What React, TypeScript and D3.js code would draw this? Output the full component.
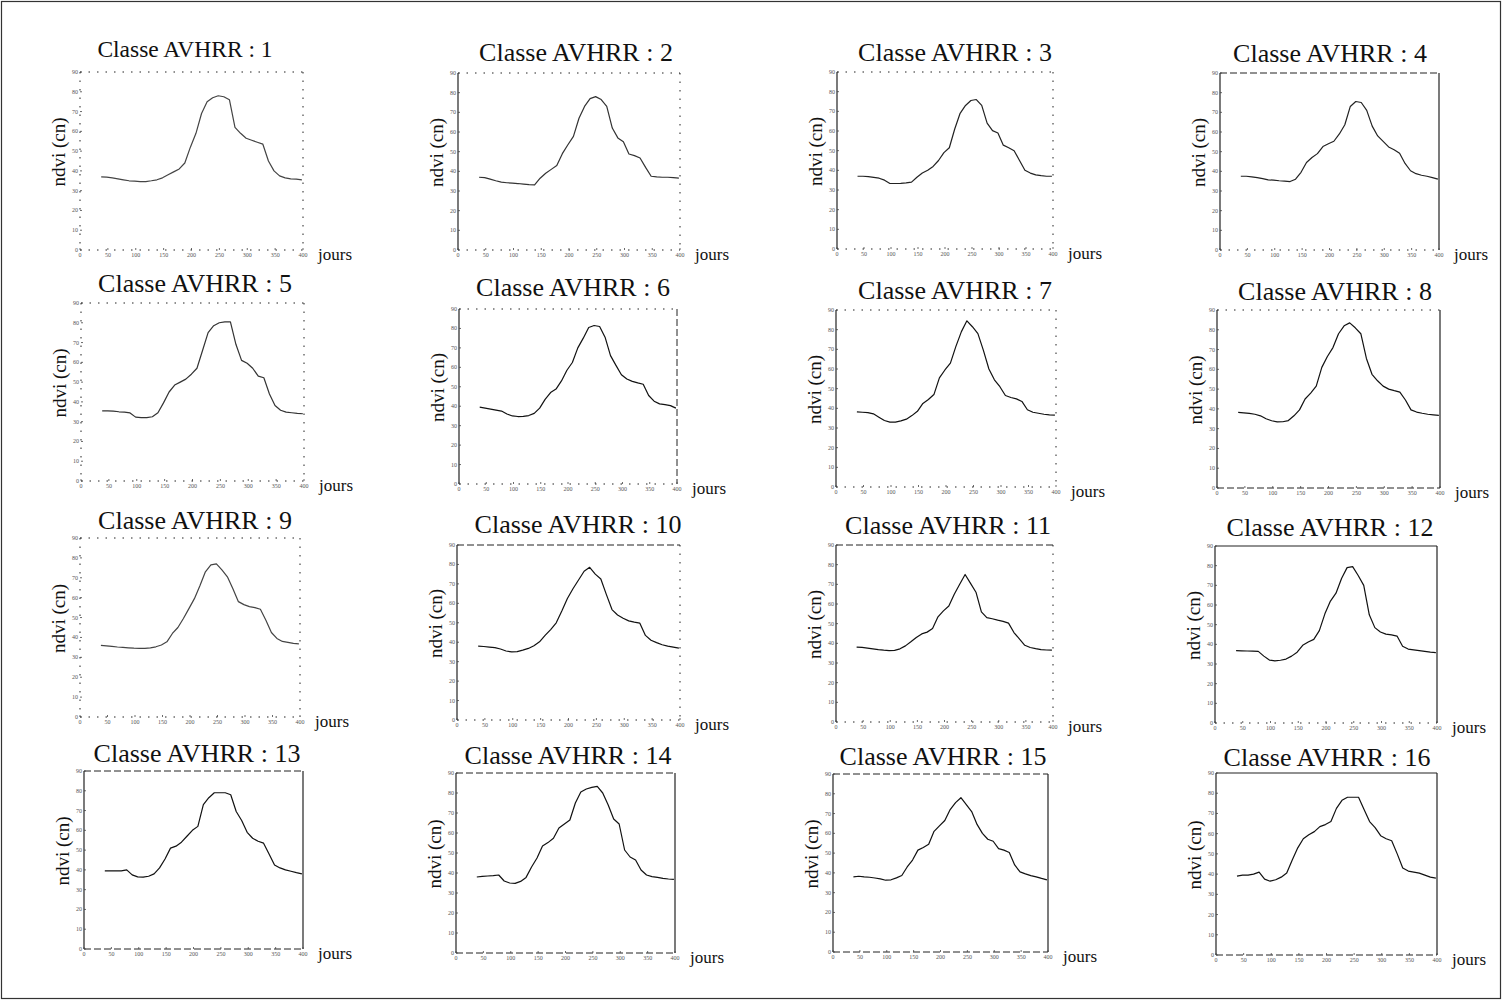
import React from 'react';
import * as d3 from 'd3';

// ---------- DATA ----------
const days = [38, 48, 58, 68, 78, 88, 98, 108, 118, 128, 138, 148, 158, 168, 178, 188, 198, 208, 218, 228, 238, 248, 258, 268, 278, 288, 298, 308, 318, 328, 338, 348, 358, 368, 378, 388, 398];

const ndvi1 = [37, 36.8, 36.5, 36, 35.5, 35, 34.8, 34.6, 34.6, 35, 35.5, 36.5, 38, 39.5, 41, 44, 52, 59, 69, 75, 77, 78, 77.5, 76, 62, 59, 56.5, 55.5, 54.5, 53.5, 45, 40, 37.5, 36.5, 36, 35.8, 35.5];
const ndvi2 = [37, 36.8, 36, 35.2, 34.5, 34.2, 34, 33.8, 33.5, 33.2, 33.1, 36.5, 39, 41, 43, 49, 53.5, 57.8, 67, 73, 77, 78, 76.5, 73, 62, 57, 55, 48.8, 48, 46.8, 42, 37.5, 37.2, 37, 37, 36.8, 36.5];
const ndvi3 = [37, 37, 36.8, 36.4, 36, 35, 33.3, 33.3, 33.4, 33.6, 34, 36.5, 38.6, 40, 42, 45, 49, 51.5, 61, 69, 73, 75.5, 76, 73, 64, 60.2, 59, 52.8, 51.5, 50, 45, 40, 38.6, 37.7, 37.3, 37, 37];
const ndvi4 = [37.5, 37.5, 37.2, 36.8, 36.3, 35.7, 35.5, 35.2, 35, 34.8, 36, 39.5, 44.5, 47, 49, 52.6, 54, 55.3, 59, 63.7, 73, 75.5, 75, 71, 63, 58, 55.2, 52.4, 51, 49.2, 44, 40.3, 38.8, 38, 37.5, 36.8, 36];
const ndvi5 = [35.5, 35.5, 35.3, 35, 34.8, 34.4, 32.3, 32, 32, 32.5, 34.5, 39.5, 45, 48.5, 50, 51.5, 54, 57, 66, 75, 78.5, 80, 80.5, 80.5, 69, 61, 59.5, 57, 53, 52.2, 44, 38.2, 35.8, 34.8, 34.5, 34.2, 34];
const ndvi6 = [39.5, 39, 38.5, 38, 37.5, 36, 35, 34.7, 34.8, 35.2, 36.3, 39, 43.5, 47, 48.8, 53, 58.5, 62.5, 70, 75, 80.5, 81.5, 81, 75.5, 66, 61, 56.2, 54, 52.8, 52, 51.3, 45.5, 42.6, 41.2, 40.8, 40.3, 39];
const ndvi7 = [38.2, 38, 37.8, 37.2, 35.5, 33.8, 33, 33, 33.6, 34.5, 36.3, 38.5, 42.5, 44.5, 47, 55.5, 59.5, 63, 71.5, 79, 84.5, 81.5, 78, 69.5, 60, 54.5, 51, 46.5, 45.5, 44.8, 43.5, 39.3, 38, 37.5, 37, 36.7, 36.5];
const ndvi8 = [38.2, 38, 37.7, 37.3, 36.5, 35, 34, 33.4, 33.5, 34.1, 36.5, 39.5, 45, 48, 51.5, 61, 66.5, 71, 78, 82, 83.5, 81, 78, 65.5, 57.5, 54.2, 51.5, 50, 49.2, 48.5, 44.5, 39.5, 38.4, 37.8, 37.3, 37, 36.7];
const ndvi9 = [36, 35.8, 35.5, 35.2, 35, 34.8, 34.6, 34.5, 34.5, 34.8, 35.3, 36.2, 37.8, 42, 45, 49.5, 54.5, 59.5, 66, 73, 76.5, 77, 74, 70.5, 64.5, 58, 56.5, 55.5, 55, 54.2, 48.6, 42.5, 39.5, 38, 37.5, 37, 36.8];
const ndvi10 = [38, 37.8, 37.5, 37.2, 36.5, 35.5, 35, 35.2, 35.9, 36.8, 38.2, 40.2, 43.5, 46.5, 50, 56, 62.5, 67.5, 72, 76.5, 78.5, 75, 72.5, 64.5, 56.8, 54, 52.3, 51, 50.3, 49.8, 43.5, 41, 39.8, 38.7, 38, 37.5, 37];
const ndvi11 = [38.1, 37.9, 37.6, 37.2, 36.8, 36.5, 36.3, 36.4, 37.2, 38.7, 40.8, 43, 44.8, 45.7, 47.5, 53.5, 56.5, 59, 65, 70, 75, 70.5, 66, 56, 53.1, 52.5, 51.8, 51.2, 50.3, 45.5, 42.3, 39, 37.9, 37.3, 36.8, 36.6, 36.5];
const ndvi12 = [36.8, 36.7, 36.6, 36.5, 36.4, 34, 32, 31.6, 31.9, 32.5, 34, 36, 39.5, 41.2, 42.5, 47, 55.5, 62, 66, 73.5, 79, 79.5, 75, 70, 55, 48.5, 46.3, 45.2, 44.8, 44.2, 39, 37.6, 37.2, 36.8, 36.4, 36, 35.8];
const ndvi13 = [39.5, 39.5, 39.5, 39.5, 40, 37.5, 36.5, 36.3, 36.8, 38, 41, 45.5, 51, 52, 54, 57, 60, 62, 73, 76.5, 79, 79, 79, 78, 69.5, 65, 59, 56, 54.5, 53.5, 48, 42.5, 41, 40, 39.3, 38.6, 38];
const ndvi14 = [38, 38.3, 38.5, 38.7, 39, 36, 35, 34.8, 35.8, 37.8, 43, 47.5, 53.5, 55.2, 57.4, 62.5, 64.5, 66.5, 75, 80.5, 82, 82.8, 83.3, 80, 74, 67, 64.5, 51.5, 48, 46.5, 41.5, 39, 38.2, 37.8, 37.3, 37, 36.8];
const ndvi15 = [38, 38.3, 38, 37.8, 37.4, 37, 36.3, 36.5, 37.5, 38.7, 43, 46.5, 51.5, 52.8, 54.5, 61, 63.8, 66.5, 72, 75.5, 78, 74.5, 71, 64.5, 60, 57, 56, 52.3, 51.5, 50.3, 44, 40.5, 39.5, 38.6, 38, 37.2, 36.5];
const ndvi16 = [39, 39.5, 39.5, 40, 41, 37.5, 36.5, 37.2, 38.5, 40.5, 47, 53, 57.5, 59.5, 61, 63.5, 64.5, 66, 72.5, 76.5, 78, 78, 78, 72, 66, 63, 59, 57.5, 56.5, 50, 43, 41.5, 41, 40.5, 39.5, 38.5, 38];

const series = [ndvi1, ndvi2, ndvi3, ndvi4, ndvi5, ndvi6, ndvi7, ndvi8, ndvi9, ndvi10, ndvi11, ndvi12, ndvi13, ndvi14, ndvi15, ndvi16];
const classLabels = ['1', '2', '3', '4', '5', '6', '7', '8', '9', '10', '11', '12', '13', '14', '15', '16'];
const xTicks = [0, 50, 100, 150, 200, 250, 300, 350, 400];
const yTicks = [0, 10, 20, 30, 40, 50, 60, 70, 80, 90];
const titlePrefix = 'Classe AVHRR : ';
const xLabel = 'jours';
const yLabel = 'ndvi (cn)';

// ---------- LAYOUT / STYLE ----------
const panelLeft = [80, 458, 837, 1220, 81, 459, 836, 1217, 80, 457, 836, 1215, 84, 456, 833, 1216];
const panelRight = [303, 680, 1053, 1439, 304, 677, 1056, 1440, 300, 680, 1053, 1437, 303, 675, 1048, 1437];
const panelTop = [72, 73, 72, 73, 303, 309, 310, 310, 538, 545, 545, 546, 771, 773, 774, 773];
const panelBottom = [250, 250, 249, 250, 481, 484, 487, 488, 717, 720, 722, 723, 949, 953, 952, 955];
const titleX = [185, 576, 955, 1330, 195, 573, 955, 1335, 195, 578, 948, 1330, 197, 568, 943, 1327];
const titleY = [57, 61, 61, 62, 292, 296, 299, 300, 529, 533, 534, 536, 762, 764, 765, 766];
const titleSize = [23.5, 26, 26, 26, 26, 26, 26, 26, 26, 26, 26, 26, 26, 26, 26, 26];
const frameTop = ['o', 'o', 'o', 'd', 'o', 'o', 'o', 'o', 'o', 'd', 'd', 's', 'd', 'd', 'd', 's'];
const frameRight = ['o', 'o', 'o', 's', 'o', 'd', 'o', 's', 'o', 'o', 'o', 's', 's', 's', 's', 's'];
const frameBottom = ['o', 'o', 'o', 'o', 'o', 'o', 'o', 'd', 'o', 'o', 'o', 'o', 'd', 'd', 'd', 'd'];
const frameLeft = ['o', 's', 's', 's', 'o', 's', 's', 's', 'o', 's', 's', 's', 's', 's', 's', 's'];
const lineColor = ['#444', '#333', '#222', '#222', '#333', '#111', '#111', '#111', '#444', '#111', '#111', '#111', '#111', '#111', '#111', '#111'];

const serif = '"Liberation Serif", "Times New Roman", serif';
const dashFor = (c: string) => (c === 's' ? undefined : c === 'd' ? '7 3' : '1.5 7');
const widthFor = (c: string) => (c === 's' ? 1.2 : 1);

function Panel({ i }: { i: number }) {
  const L = panelLeft[i], R = panelRight[i], T = panelTop[i], B = panelBottom[i];
  const x = d3.scaleLinear().domain([0, 400]).range([L, R]);
  const y = d3.scaleLinear().domain([0, 90]).range([B, T]);
  const line = d3.line<number>().x((_, k) => x(days[k])).y((d) => y(d));
  const sides = [
    { c: frameTop[i], x1: L, y1: T, x2: R, y2: T },
    { c: frameRight[i], x1: R, y1: T, x2: R, y2: B },
    { c: frameBottom[i], x1: L, y1: B, x2: R, y2: B },
    { c: frameLeft[i], x1: L, y1: T, x2: L, y2: B },
  ];
  return (
    <g>
      <text x={titleX[i]} y={titleY[i]} textAnchor="middle" fontFamily={serif} fontSize={titleSize[i]} fill="#111">
        {titlePrefix + classLabels[i]}
      </text>
      {sides.map((s, k) => (
        <line key={k} x1={s.x1} y1={s.y1} x2={s.x2} y2={s.y2} stroke="#222" strokeWidth={widthFor(s.c)} strokeDasharray={dashFor(s.c)} />
      ))}
      {xTicks.map((t) => (
        <g key={'x' + t}>
          <line x1={x(t)} x2={x(t)} y1={B} y2={B - 2} stroke="#444" strokeWidth={0.8} />
          <text x={x(t)} y={B + 7} textAnchor="middle" fontFamily={serif} fontSize={6} fill="#555">{t}</text>
        </g>
      ))}
      {yTicks.map((t) => (
        <g key={'y' + t}>
          <line x1={L} x2={L + 2} y1={y(t)} y2={y(t)} stroke="#444" strokeWidth={0.8} />
          <text x={L - 2} y={y(t) + 2} textAnchor="end" fontFamily={serif} fontSize={6} fill="#555">{t}</text>
        </g>
      ))}
      <path d={line(series[i]) || ''} fill="none" stroke={lineColor[i]} strokeWidth={1.2} strokeLinejoin="round" />
      <text x={R + 15} y={B + 10} fontFamily={serif} fontSize={17} fill="#111">{xLabel}</text>
      <text
        transform={`translate(${L - 22},${(T + B) / 2 - 9}) rotate(-90)`}
        textAnchor="middle"
        dominantBaseline="central"
        fontFamily={serif}
        fontSize={19}
        fill="#111"
      >
        {yLabel}
      </text>
    </g>
  );
}

export default function App() {
  return (
    <svg
      width={1506}
      height={1000}
      style={{ position: 'absolute', left: 0, top: 0, background: '#fff' }}
    >
      <rect x={0} y={0} width={1506} height={1000} fill="#fff" />
      <rect x={1.5} y={1.5} width={1499} height={997} fill="none" stroke="#333" strokeWidth={1.2} />
      {series.map((_, i) => (
        <Panel key={i} i={i} />
      ))}
    </svg>
  );
}
